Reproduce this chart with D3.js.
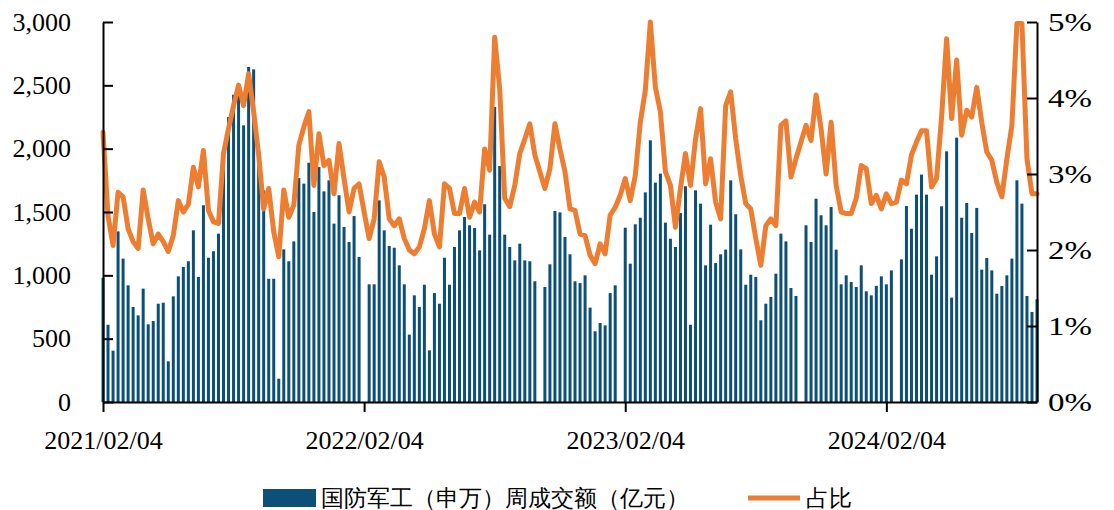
<!DOCTYPE html>
<html><head><meta charset="utf-8">
<script src="https://cdn.jsdelivr.net/npm/d3@7"></script>
<style>
html,body{margin:0;padding:0;background:#fff;}
svg text{font-family:"Liberation Serif","Times New Roman",serif;fill:#000;}
</style></head>
<body><svg id="chart" width="1114" height="510"></svg>
<script>
// weekly turnover of 国防军工（申万）, 亿元 (null = no bar that week)
const volume = [980,610,405,1347,1132,921,750,684,895,613,639,776,784,321,834,992,1066,1111,1355,987,
1553,1139,1190,1329,1960,2250,2426,2500,2184,2645,2626,1974,1671,973,973,184,1205,1111,1268,1768,
1724,1889,1500,1855,1663,1750,1408,1632,1382,1263,1468,1145,null,929,929,1592,1355,1232,1218,1079,
929,532,842,750,926,408,860,776,1139,926,1224,1355,1461,1395,1374,1197,1561,1321,2329,1863,
1321,1224,1118,1250,1118,1111,953,null,908,1087,1508,1497,1303,1166,953,939,1000,745,558,624,
605,860,921,null,1376,1092,1403,1455,1655,2066,1732,1803,1416,1289,1224,1492,1703,610,1671,1566,
1079,1400,1097,1166,1203,1750,1482,1205,926,1005,987,645,776,829,1013,1329,1268,900,837,null,
1395,1263,1605,1474,1395,1539,1203,929,1000,947,908,1079,874,842,917,992,929,1039,null,1126,
1547,1368,1637,1795,1637,1005,1150,1545,1979,824,2087,1455,1571,1334,1532,1045,1137,1039,855,916,
1000,1132,1750,1566,837,711,811];
// 占比, percent
const share = [3.55,2.45,2.06,2.76,2.70,2.28,2.11,2.02,2.79,2.41,2.08,2.21,2.11,1.98,2.19,2.65,2.50,2.60,3.09,2.83,
3.31,2.52,2.37,2.35,3.27,3.60,3.90,4.17,3.90,4.32,3.82,3.25,2.54,2.81,2.24,1.91,2.79,2.43,2.59,3.38,
3.62,3.82,2.85,3.53,3.11,3.18,2.74,3.40,2.94,2.50,2.81,2.87,2.50,2.15,2.41,3.16,2.96,2.41,2.32,2.41,
2.15,2.00,1.95,2.04,2.28,2.65,2.21,2.04,2.87,2.81,2.48,2.48,2.81,2.43,2.63,2.50,3.33,3.05,4.80,4.12,
2.68,2.57,2.85,3.27,3.46,3.66,3.25,3.03,2.81,3.07,3.66,3.33,3.03,2.54,2.52,2.21,2.19,1.93,1.82,2.08,
1.95,2.46,2.56,2.72,2.94,2.65,2.98,3.68,4.10,5.00,4.14,3.82,3.03,2.85,2.30,2.81,3.27,2.85,3.46,3.86,
2.87,3.20,2.63,2.41,3.90,4.08,3.46,2.98,2.61,2.54,2.15,1.80,2.32,2.41,2.32,3.64,3.70,2.96,3.20,3.42,
3.64,3.44,4.04,3.60,3.00,3.68,2.85,2.50,2.48,2.48,2.68,3.11,3.07,2.61,2.72,2.54,2.74,2.61,2.63,2.92,
2.87,3.25,3.42,3.57,3.57,2.83,2.94,3.75,4.78,3.73,4.50,3.51,3.84,3.75,4.14,3.68,3.29,3.18,2.89,2.70,
3.20,3.64,4.98,4.98,3.20,2.74,2.74];
const xTickIndex = [0, 52, 104, 156];
const xTickLabels = ["2021/02/04", "2022/02/04", "2023/02/04", "2024/02/04"];
const leftTicks = [0, 500, 1000, 1500, 2000, 2500, 3000];
const rightTicks = [0, 0.01, 0.02, 0.03, 0.04, 0.05];
const seriesNames = ["国防军工（申万）周成交额（亿元）", "占比"];

const barColor = "#0C5078", lineColor = "#ED7D31";
const L = 103, R = 1037, T = 22, B = 402;
const svg = d3.select("#chart");
const x = d3.scalePoint().domain(d3.range(volume.length)).range([L, R]);
const yL = d3.scaleLinear().domain([0, 3000]).range([B, T]);
const yR = d3.scaleLinear().domain([0, 0.05]).range([B, T]);

// bars
svg.append("g").selectAll("rect")
  .data(volume.map((v, i) => ({v, i})).filter(d => d.v != null))
  .join("rect")
  .attr("x", d => x(d.i) - 1.5).attr("width", 3)
  .attr("y", d => yL(d.v)).attr("height", d => B - yL(d.v))
  .attr("fill", barColor);

// line
svg.append("path")
  .datum(share.map((v, i) => ({v, i})))
  .attr("fill", "none").attr("stroke", lineColor).attr("stroke-width", 5)
  .attr("stroke-linejoin", "round").attr("stroke-linecap", "round")
  .attr("d", d3.line().x(d => x(d.i)).y(d => yR(d.v / 100)));

// axes
const gl = svg.append("g").attr("transform", `translate(${L},0)`)
  .call(d3.axisLeft(yL).tickValues(leftTicks).tickSizeInner(-10).tickSizeOuter(0).tickPadding(32).tickFormat(d3.format(",")));
const gr = svg.append("g").attr("transform", `translate(${R},0)`)
  .call(d3.axisRight(yR).tickValues(rightTicks).tickSizeInner(-10).tickSizeOuter(0).tickPadding(11).tickFormat(d3.format(".0%")));
const gb = svg.append("g").attr("transform", `translate(0,${B})`)
  .call(d3.axisBottom(x).tickValues(xTickIndex).tickSize(10).tickSizeOuter(0).tickPadding(19)
    .tickFormat((d, k) => xTickLabels[k]));
[gl, gr, gb].forEach(g => {
  g.selectAll("path.domain").attr("stroke", "#000").attr("stroke-width", 2);
  g.selectAll(".tick line").attr("stroke", "#000").attr("stroke-width", 2);
  g.selectAll("text").attr("font-size", 26).attr("font-family", "Liberation Serif").attr("fill", "#000");
});
gr.selectAll("text").attr("textLength", 44).attr("lengthAdjust", "spacingAndGlyphs");

// legend
const lg = svg.append("g");
lg.append("rect").attr("x", 263).attr("y", 489).attr("width", 53).attr("height", 18).attr("fill", barColor);
lg.append("text").attr("x", 321).attr("y", 498).attr("dominant-baseline", "central")
  .attr("font-family", "Noto Sans CJK SC").attr("font-size", 23).text(seriesNames[0]);
lg.append("line").attr("x1", 748).attr("x2", 800).attr("y1", 498).attr("y2", 498)
  .attr("stroke", lineColor).attr("stroke-width", 5);
lg.append("text").attr("x", 806).attr("y", 498).attr("dominant-baseline", "central")
  .attr("font-family", "Noto Sans CJK SC").attr("font-size", 23).text(seriesNames[1]);
</script></body></html>
